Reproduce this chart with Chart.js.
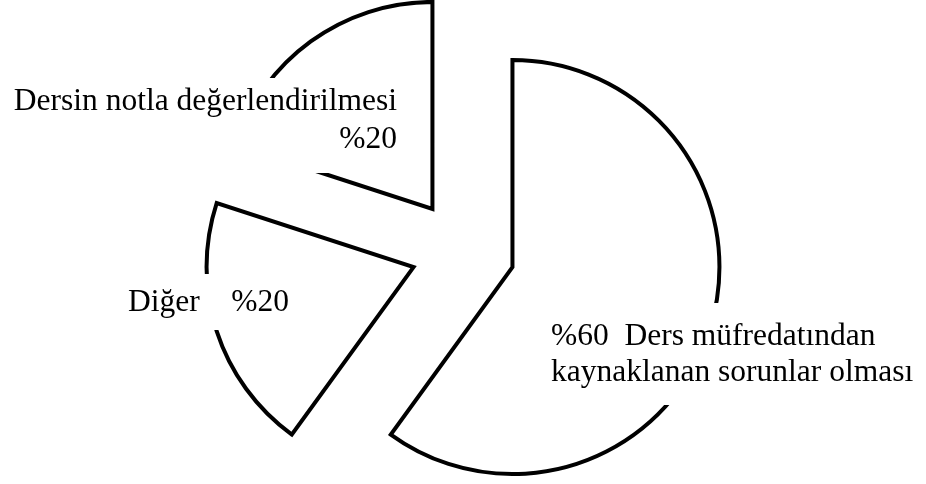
<!DOCTYPE html>
<html lang="tr">
<head>
<meta charset="utf-8">
<title>Sorunların kaynağı</title>
<script src="https://cdn.jsdelivr.net/npm/chart.js@4.4.0/dist/chart.umd.min.js"></script>
<style>
  html, body { margin: 0; padding: 0; background: #fff; }
  #wrap { position: relative; width: 926px; height: 484px; }
</style>
</head>
<body>
<div id="wrap"><canvas id="pieChart"></canvas></div>
<script>
// dilimler tepeden başlayıp saat yönünde dizilir
var categories = [
  ["Ders müfredatından", "kaynaklanan sorunlar olması"],
  ["Diğer"],
  ["Dersin notla değerlendirilmesi"]
];
var percentages = [60, 20, 20];

var explode = 52;   // dilimlerin merkezden açılma mesafesi (px)
var labelFont = "31.5px 'Liberation Serif', 'Times New Roman', serif";

// etiket kutuları: beyaz zemin, dilim çizgisinin üstüne biner
var labelLayout = [
  { box: [545, 303, 381, 102], x: 551, y: 345, gap: 36, align: 'left',
    lines: function (name, pct) { return [pct + '  ' + name[0], name[1]]; } },
  { box: [118, 274, 185, 56], x: 128, y: 311, gap: 36, align: 'left',
    lines: function (name, pct) { return [name[0] + '    ' + pct]; } },
  { box: [5, 78, 400, 95], x: 397, y: 110, gap: 38, align: 'right',
    lines: function (name, pct) { return [name[0], pct]; } }
];

// Chart.js'in offset seçeneği büyük dilimde yarıçapı da büyüttüğü için
// her dilimi kendi orta açısı yönünde eşit miktarda kaydırarak çiziyoruz
var explodeSlices = {
  id: 'explodeSlices',
  beforeDatasetDraw: function (chart, args) {
    var ctx = chart.ctx;
    args.meta.data.forEach(function (arc) {
      var mid = (arc.startAngle + arc.endAngle) / 2;
      ctx.save();
      ctx.translate(Math.cos(mid) * explode, Math.sin(mid) * explode);
      arc.draw(ctx);
      ctx.restore();
    });
    return false;
  }
};

var sliceLabels = {
  id: 'sliceLabels',
  afterDatasetsDraw: function (chart) {
    var ctx = chart.ctx;
    var values = chart.data.datasets[0].data;
    ctx.save();
    ctx.font = labelFont;
    ctx.textBaseline = 'alphabetic';
    labelLayout.forEach(function (lay, i) {
      var b = lay.box;
      ctx.fillStyle = '#ffffff';
      ctx.fillRect(b[0], b[1], b[2], b[3]);
      ctx.fillStyle = '#000000';
      ctx.textAlign = lay.align;
      lay.lines(chart.data.labels[i], '%' + values[i]).forEach(function (txt, k) {
        ctx.fillText(txt, lay.x, lay.y + k * lay.gap);
      });
    });
    ctx.restore();
  }
};

new Chart(document.getElementById('pieChart'), {
  type: 'pie',
  data: {
    labels: categories,
    datasets: [{
      data: percentages,
      backgroundColor: '#ffffff',
      borderColor: '#000000',
      borderWidth: 4,
      borderJoinStyle: 'miter',
      clip: false
    }]
  },
  options: {
    responsive: true,
    maintainAspectRatio: false,
    animation: false,
    events: [],
    radius: 207,
    layout: { padding: { top: 18, right: 0, bottom: 0, left: 0 } },
    plugins: {
      legend: { display: false },
      tooltip: { enabled: false }
    }
  },
  plugins: [explodeSlices, sliceLabels]
});
</script>
</body>
</html>
